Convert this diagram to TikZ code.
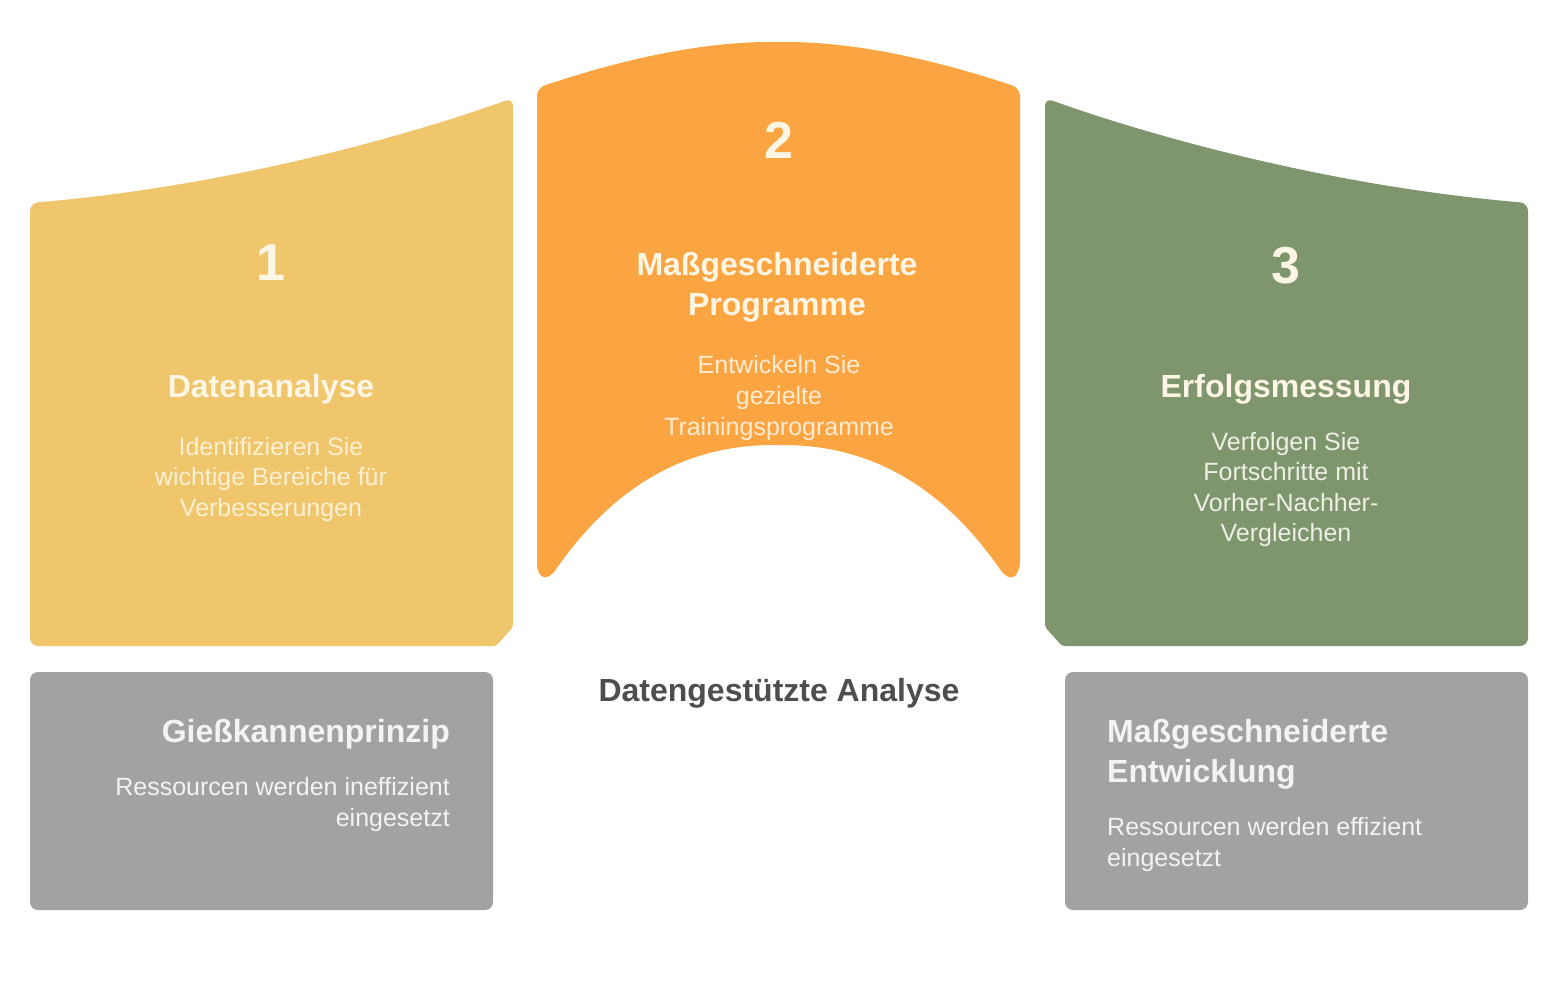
\documentclass[tikz,border=0pt]{standalone}
\usepackage{fontspec}
\setmainfont{Liberation Sans}
\definecolor{cyellow}{HTML}{F0C66C}
\definecolor{corange}{HTML}{FBA542}
\definecolor{cgreen}{HTML}{7E956E}
\definecolor{cgray}{HTML}{A2A2A2}
\definecolor{ccream}{HTML}{FDF6E4}
\definecolor{cdescY}{HTML}{FBF0D2}
\definecolor{cdescO}{HTML}{FDEBD2}
\definecolor{cdescG}{HTML}{EEF0E4}
\definecolor{cgtxt}{HTML}{F3F3F3}
\definecolor{cdark}{HTML}{4E4E4E}
\begin{document}
\begin{tikzpicture}[x=1pt,y=-1pt,
  numtxt/.style={anchor=base, inner sep=0pt, text=ccream, font=\bfseries\fontsize{52}{60}\selectfont},
  ttltxt/.style={anchor=base, inner sep=0pt, text=ccream, font=\bfseries\fontsize{32}{38}\selectfont},
  dsctxt/.style={anchor=base, inner sep=0pt, font=\fontsize{25}{30}\selectfont},
  gttl/.style={inner sep=0pt, text=cgtxt, font=\bfseries\fontsize{32}{38}\selectfont},
  gdsc/.style={inner sep=0pt, text=cgtxt, font=\fontsize{25}{30}\selectfont}]
\useasboundingbox (0,0) rectangle (1558,994);
\fill[white] (0,0) rectangle (1558,994);

% yellow panel
\fill[cyellow, rounded corners=8pt] (30,646) -- (30,203) .. controls (230,186) and (410,135) .. (513,98) [rounded corners=3pt] -- (513,627) -- (496,646) [rounded corners=8pt] -- cycle;
% orange panel
\fill[corange, rounded corners=8pt] (537,570) -- (537,88) .. controls (620,60) and (700,42) .. (778,42) .. controls (856,42) and (936,60) .. (1020,88) -- (1020,570) [rounded corners=5pt] -- (1013,579) -- (1004,575) .. controls (940,482) and (866,445) .. (778,445) .. controls (690,445) and (616,482) .. (552,575) -- (543,579) -- cycle;
% green panel
\fill[cgreen, rounded corners=8pt] (1528,646) -- (1528,203) .. controls (1328,186) and (1148,135) .. (1045,98) [rounded corners=3pt] -- (1045,627) -- (1062,646) [rounded corners=8pt] -- cycle;

% gray boxes
\fill[cgray, rounded corners=8pt] (30,672) rectangle (493,910);
\fill[cgray, rounded corners=8pt] (1065,672) rectangle (1528,910);

% yellow texts
\node[numtxt] (n1) at (271,280) {1};
\node[ttltxt] (t1) at (271,397) {Datenanalyse};
\node[dsctxt, text=cdescY] (d1a) at (271,455) {Identifizieren Sie};
\node[dsctxt, text=cdescY] (d1b) at (271,485) {wichtige Bereiche für};
\node[dsctxt, text=cdescY] (d1c) at (271,516) {Verbesserungen};

% orange texts
\node[numtxt] (n2) at (779,158) {2};
\node[ttltxt] (t2a) at (777,275) {Maßgeschneiderte};
\node[ttltxt] (t2b) at (777,315) {Programme};
\node[dsctxt, text=cdescO] (d2a) at (779,373) {Entwickeln Sie};
\node[dsctxt, text=cdescO] (d2b) at (779,404) {gezielte};
\node[dsctxt, text=cdescO] (d2c) at (779,435) {Trainingsprogramme};

% green texts
\node[numtxt] (n3) at (1286,283) {3};
\node[ttltxt] (t3) at (1286,397) {Erfolgsmessung};
\node[dsctxt, text=cdescG] (d3a) at (1286,450) {Verfolgen Sie};
\node[dsctxt, text=cdescG] (d3b) at (1286,480) {Fortschritte mit};
\node[dsctxt, text=cdescG] (d3c) at (1286,511) {Vorher-Nachher-};
\node[dsctxt, text=cdescG] (d3d) at (1286,541) {Vergleichen};

% center label
\node[anchor=base, inner sep=0pt, text=cdark, font=\bfseries\fontsize{32}{38}\selectfont] (lbl) at (779,701) {Datengestützte Analyse};

% left gray box texts
\node[gttl, anchor=base east] (g1t) at (450,742) {Gießkannenprinzip};
\node[gdsc, anchor=base east] (g1a) at (450,795) {Ressourcen werden ineffizient};
\node[gdsc, anchor=base east] (g1b) at (450,826) {eingesetzt};

% right gray box texts
\node[gttl, anchor=base west] (g2t) at (1107,742) {Maßgeschneiderte};
\node[gttl, anchor=base west] (g2u) at (1107,782) {Entwicklung};
\node[gdsc, anchor=base west] (g2a) at (1107,835) {Ressourcen werden effizient};
\node[gdsc, anchor=base west] (g2b) at (1107,866) {eingesetzt};
\end{tikzpicture}
\end{document}
